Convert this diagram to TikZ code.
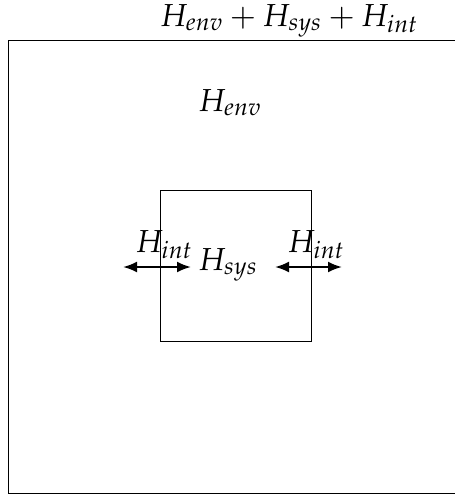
\documentclass[tikz,border=0pt]{standalone}
\usepackage{mathpazo}
\usetikzlibrary{arrows.meta}
\begin{document}
\begin{tikzpicture}[x=0.5pt,y=-0.5pt,
  lbl/.style={anchor=base,inner sep=0pt,font=\fontsize{15.9pt}{18pt}\selectfont},
  frame/.style={draw,line width=0.5pt},
  dbl/.style={{Latex[length=7pt,width=5.5pt]}-{Latex[length=7pt,width=5.5pt]},line width=1.1pt}]
\useasboundingbox (0,0) rectangle (455,494);
% outer environment box (extends beyond the page at right and bottom)
\coordinate (envA) at (8.5,40.5);
\coordinate (envB) at (480,493.8);
\draw[frame] (envA) rectangle (envB);
% system box
\coordinate (sysA) at (160.5,190.5);
\coordinate (sysB) at (311.5,341.5);
\draw[frame] (sysA) rectangle (sysB);
% labels
\node[lbl] (total) at (289,26) {$H_{env}+H_{sys}+H_{int}$};
\node[lbl] (env) at (230,111) {$H_{env}$};
\node[lbl] (sys) at (228,270) {$H_{sys}$};
\node[lbl] (intL) at (164,252) {$H_{int}$};
\node[lbl] (intR) at (316,252) {$H_{int}$};
% interaction arrows
\coordinate (lA) at (123,267);
\coordinate (lB) at (191,267);
\coordinate (rA) at (275,267);
\coordinate (rB) at (342,267);
\draw[dbl] (lA) -- (lB);
\draw[dbl] (rA) -- (rB);
\end{tikzpicture}
\end{document}
